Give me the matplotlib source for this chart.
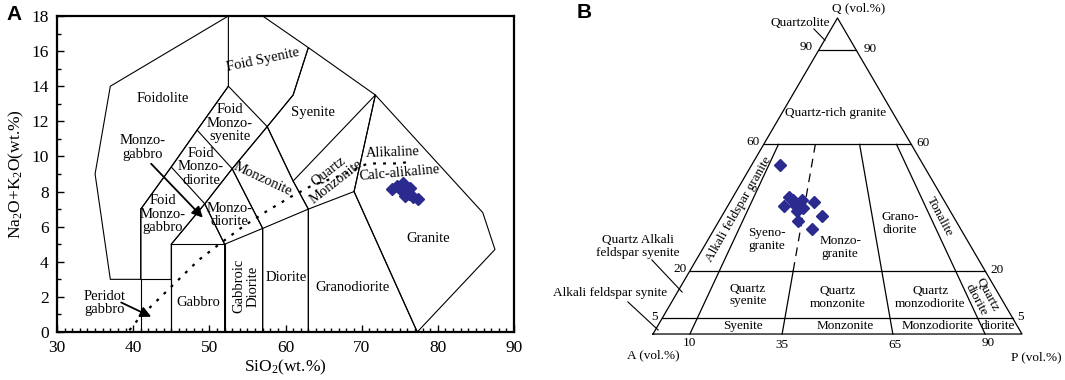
import numpy as np
import matplotlib
matplotlib.use('Agg')
import matplotlib.pyplot as plt
from matplotlib.ticker import MultipleLocator

plt.rcParams['font.family'] = ['Liberation Serif', 'Noto Sans CJK SC']
plt.rcParams['mathtext.fontset'] = 'custom'
plt.rcParams['mathtext.rm'] = 'Liberation Serif'
plt.rcParams['mathtext.it'] = 'Liberation Serif:italic'

##### DATA #####
# TAS plutonic fields (Middlemost 1994), SiO2 / Na2O+K2O
fields = {
    'Peridot gabbro': [(41, 0), (41, 3), (45, 3), (45, 0)],
    'Gabbro': [(45, 0), (45, 5), (52, 5), (52, 0)],
    'Gabbroic diorite': [(52, 0), (52, 5), (57, 5.9), (57, 0)],
    'Diorite': [(57, 0), (57, 5.9), (63, 7), (63, 0)],
    'Granodiorite': [(63, 0), (63, 7), (69, 8), (77.3, 0)],
    'Granite': [(77.3, 0), (69, 8), (71.8, 13.5), (85.9, 6.8), (87.5, 4.7), (77.3, 0)],
    'Monzogabbro': [(45, 5), (49.4, 7.3), (52, 5)],
    'Monzodiorite': [(52, 5), (49.4, 7.3), (53, 9.3), (57, 5.9)],
    'Monzonite': [(57, 5.9), (53, 9.3), (57.6, 11.7), (61, 8.6), (63, 7)],
    'Quartz monzonite': [(63, 7), (61, 8.6), (71.8, 13.5), (69, 8)],
    'Syenite': [(61, 8.6), (57.6, 11.7), (61, 13.5), (63, 16.2), (71.8, 13.5)],
    'Foid monzogabbro': [(41, 3), (41, 7), (45, 9.4), (49.4, 7.3), (45, 5), (45, 3)],
    'Foid monzodiorite': [(45, 9.4), (48.4, 11.5), (53, 9.3), (49.4, 7.3)],
    'Foid monzosyenite': [(48.4, 11.5), (52.5, 14), (57.6, 11.7), (53, 9.3)],
    'Foid syenite': [(52.5, 14), (52.5, 18), (57, 18), (63, 16.2), (61, 13.5), (57.6, 11.7)],
    'Foidolite': [(52.5, 14), (48.4, 11.5), (45, 9.4), (41, 7), (41, 3), (37, 3),
                  (35, 9), (37, 14), (52.5, 18)],
}

# alkaline / calc-alkaline divide
alk_x = [39.5, 40.9, 43.4, 46.0, 48.6, 51.6, 54.4, 57.6, 60.7, 63.5, 67.8, 70.8, 74.6, 76.6]
alk_y = [0.1, 0.85, 1.9, 3.0, 4.1, 5.1, 6.0, 6.9, 7.7, 8.35, 9.0, 9.6, 9.6, 9.7]

# samples (TAS)
sio2 = [74.0, 74.6, 75.4, 75.1, 75.9, 76.3, 76.7, 77.4, 75.7, 76.2]
na2o_k2o = [8.14, 8.31, 8.49, 8.09, 7.97, 8.2, 7.69, 7.57, 7.74, 7.86]

# samples (QAP, vol.%)
qap_q = [53.5, 43.4, 40.6, 40.8, 42.4, 39.8, 41.7, 37.4, 35.8, 33.1, 42.4, 39.0]
qap_p = [7.7, 15.2, 15.2, 18.1, 19.1, 20.8, 22.8, 27.0, 21.5, 26.6, 16.7, 19.5]

# QAP boundaries
q_levels = [90, 60, 20, 5]
p_ratios = [10, 35, 65, 90]

fig = plt.figure(figsize=(10.65, 3.8), dpi=100)

##### A: TAS #####
ax = fig.add_axes([57 / 1065, 48 / 380, 457 / 1065, 316 / 380])
for name, pts in fields.items():
    xs, ys = zip(*pts)
    ax.plot(xs, ys, color='k', lw=0.8)
ax.plot(alk_x, alk_y, color='k', lw=1.6, ls=(0, (1.3, 3.2)))
ax.plot(sio2, na2o_k2o, 'D', color='#2b2b8f', ms=6, mec='#2b2b8f')

ax.set_xlim(30, 90)
ax.set_ylim(0, 18)
ax.xaxis.set_major_locator(MultipleLocator(10))
ax.xaxis.set_minor_locator(MultipleLocator(1))
ax.yaxis.set_major_locator(MultipleLocator(2))
ax.yaxis.set_minor_locator(MultipleLocator(1))
ax.tick_params(which='both', direction='in', top=False, right=False, width=1)
ax.tick_params(which='major', length=5, labelsize=12.5, pad=6)
ax.tick_params(which='minor', length=3)
for s in ax.spines.values():
    s.set_linewidth(1.6)
ax.set_xlabel(r'SiO$_2$(wt.%)', fontsize=12.5, labelpad=1)
ax.set_ylabel(r'Na$_2$O+K$_2$O(wt.%)', fontsize=12.5, labelpad=4)

fs = 10.5
kw = dict(fontsize=fs, ha='center', va='center', linespacing=1.05)
ax.text(43.9, 13.3, 'Foidolite', **kw)
ax.text(57.0, 15.5, 'Foid Syenite', rotation=12, **kw)
ax.text(52.7, 11.9, 'Foid\nMonzo-\nsyenite', **kw)
ax.text(48.9, 9.4, 'Foid\nMonzo-\ndiorite', **kw)
ax.text(41.3, 10.5, 'Monzo-\ngabbro', **kw)
ax.text(43.9, 6.7, 'Foid\nMonzo-\ngabbro', **kw)
ax.text(57.0, 8.7, 'Monzonite', rotation=-25, **kw)
ax.text(52.7, 6.66, 'Monzo-\ndiorite', **kw)
ax.text(66.1, 8.85, 'Quartz\nMonzonite', rotation=38, **kw)
ax.text(63.6, 12.5, 'Syenite', **kw)
ax.text(74.1, 10.2, 'Alikaline', rotation=2, **kw)
ax.text(75.0, 9.05, 'Calc-alikaline', rotation=5, **kw)
ax.text(78.7, 5.35, 'Granite', **kw)
ax.text(68.8, 2.56, 'Granodiorite', **kw)
ax.text(60.1, 3.13, 'Diorite', **kw)
ax.text(54.8, 2.6, 'Gabbroic\nDiorite', rotation=90, **kw)
ax.text(48.5, 1.7, 'Gabbro', **kw)
ax.text(36.3, 1.65, 'Peridot\ngabbro', **kw)
arr = dict(arrowstyle='-|>', color='k', lw=1.3, mutation_scale=16)
ax.annotate('', xy=(49.4, 6.4), xytext=(42.1, 9.7), arrowprops=arr)
ax.annotate('', xy=(42.7, 0.8), xytext=(38.1, 1.75), arrowprops=arr)

fig.text(6 / 1065, 1 - 5 / 380, 'A', fontsize=15, fontweight='bold',
         family='Liberation Sans', ha='left', va='top')

##### B: QAP #####
bx = fig.add_axes([540 / 1065, 0, 525 / 1065, 1])
bx.set_xlim(-0.3062, 1.1166)
bx.set_ylim(-0.126, 0.9153)
bx.axis('off')
h = np.sqrt(3) / 2


def tern(q, p):
    q = np.asarray(q, float) / 100
    p = np.asarray(p, float) / 100
    return p + q / 2, q * h


def ratio_line(r, q0, q1):
    qs = np.array([q0, q1], float)
    ps = r / 100 * (100 - qs)
    return tern(qs, ps)


x, y = tern([0, 100, 0, 0], [0, 0, 100, 0])
bx.plot(x, y, color='k', lw=0.9)
for q in q_levels:
    x, y = tern([q, q], [0, 100 - q])
    bx.plot(x, y, color='k', lw=0.9)
for r in p_ratios:
    if r == 35:
        x, y = ratio_line(r, 0, 20)
        bx.plot(x, y, color='k', lw=0.9)
        x, y = ratio_line(r, 20, 60)
        bx.plot(x, y, color='k', lw=0.9, ls=(0, (7, 5)))
    else:
        x, y = ratio_line(r, 0, 60)
        bx.plot(x, y, color='k', lw=0.9)

x, y = tern(qap_q, qap_p)
bx.plot(x, y, 'D', color='#2b2b8f', ms=6.5, mec='#2b2b8f')

fb = 9.5
kb = dict(fontsize=fb, ha='center', va='center', linespacing=1.1)
bx.text(0.486, 0.893, 'Q (vol.%)', fontsize=fb, ha='left', va='center')
bx.text(0.398, 0.852, 'Quartzolite', **kb)
bx.plot([0.436, 0.466], [0.836, 0.805], color='k', lw=0.8)
bx.text(0.415, 0.787, '90', **kb)
bx.text(0.588, 0.781, '90', **kb)
bx.text(0.496, 0.606, 'Quartz-rich granite', **kb)
bx.text(0.271, 0.526, '60', **kb)
bx.text(0.732, 0.523, '60', **kb)
bx.text(0.232, 0.343, 'Alkali feldspar granite', rotation=60, **kb)
bx.text(0.309, 0.258, 'Syeno-\ngranite', **kb)
bx.text(0.507, 0.238, 'Monzo-\ngranite', **kb)
bx.text(0.669, 0.304, 'Grano-\ndiorite', **kb)
bx.text(0.778, 0.321, 'Tonalite', rotation=-62, **kb)
bx.text(0.073, 0.178, '20', **kb)
bx.text(0.932, 0.175, '20', **kb)
bx.text(0.257, 0.107, 'Quartz\nsyenite', **kb)
bx.text(0.501, 0.101, 'Quartz\nmonzonite', **kb)
bx.text(0.751, 0.101, 'Quartz\nmonzodiorite', **kb)
bx.text(0.892, 0.101, 'Quartz\ndiorite', rotation=-62, **kb)
bx.text(0.004, 0.047, '5', **kb)
bx.text(0.995, 0.047, '5', **kb)
bx.text(0.244, 0.022, 'Syenite', **kb)
bx.text(0.520, 0.022, 'Monzonite', **kb)
bx.text(0.770, 0.022, 'Monzodiorite', **kb)
bx.text(0.935, 0.022, 'diorite', **kb)
bx.text(-0.040, 0.241, 'Quartz Alkali\nfeldspar syenite', **kb)
bx.plot([-0.003, 0.079], [0.203, 0.115], color='k', lw=0.8)
bx.text(-0.117, 0.112, 'Alkali feldspar synite', **kb)
bx.plot([-0.068, 0.014], [0.088, 0.011], color='k', lw=0.8)
bx.text(0.0, -0.058, 'A (vol.%)', **kb)
bx.text(0.100, -0.025, '10', **kb)
bx.text(0.350, -0.030, '35', **kb)
bx.text(0.656, -0.030, '65', **kb)
bx.text(0.908, -0.025, '90', **kb)
bx.text(1.038, -0.063, 'P (vol.%)', **kb)

fig.text(577 / 1065, 1 - 3 / 380, 'B', fontsize=15, fontweight='bold',
         family='Liberation Sans', ha='left', va='top')

plt.savefig('out.png', dpi=100)
